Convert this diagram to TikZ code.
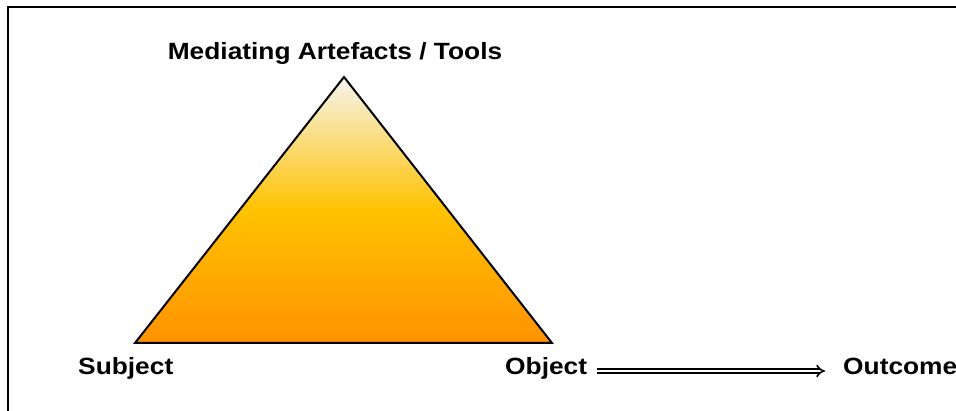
\documentclass[tikz,border=0pt]{standalone}
\usepackage{fontspec}
\setmainfont{Liberation Sans}[FakeStretch=1.12]
\usepackage{tikz}
\usetikzlibrary{positioning,arrows.meta,calc}
\definecolor{tritop}{RGB}{246,244,238}
\definecolor{trimid}{RGB}{255,194,0}
\definecolor{tribot}{RGB}{255,146,0}

\begin{document}
\begin{tikzpicture}[
    x=1pt, y=-1pt,
    label/.style={inner sep=0pt, font=\fontsize{23.5}{28}\selectfont\bfseries},
    tri/.style={draw=black, line width=2pt, line join=miter, top color=tritop, bottom color=tribot, middle color=trimid},
    arrow/.style={double, double distance=2.6pt, line width=1.6pt, -{Implies[length=9pt, width=14pt]}}
]
\useasboundingbox (0,0) rectangle (956,411);
\draw[line width=1.6pt] (956,7) -| (8,411);

% triangle corners
\coordinate (tools) at (344,77);
\coordinate (subj) at (135,343);
\coordinate (obj) at (552,343);
\path[tri] (tools) -- (subj) -- (obj) -- cycle;

\node[label, anchor=base] (toolslbl) at (335,60) {Mediating Artefacts / Tools};
\node[label, anchor=base west] (subjlbl) at (78,375) {Subject};
\node[label, anchor=base west] (objlbl) at (505,375) {Object};
\node[label, anchor=base west] (outlbl) at (843,375) {Outcome};

\draw[arrow] ([xshift=10pt,yshift=4pt]objlbl.base east) -- ([xshift=-18pt,yshift=4pt]outlbl.base west);
\end{tikzpicture}
\end{document}
